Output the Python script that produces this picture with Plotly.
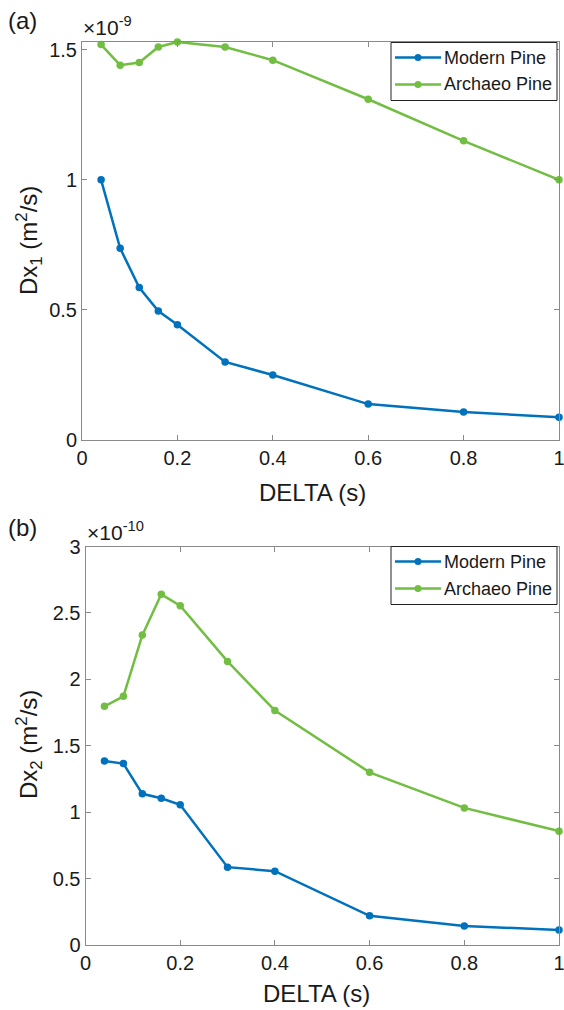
import plotly.graph_objects as go

W, H = 564, 1010

delta = [0.04, 0.08, 0.12, 0.16, 0.2, 0.3, 0.4, 0.6, 0.8, 1.0]
modern_dx1 = [1.00, 0.737, 0.586, 0.496, 0.443, 0.300, 0.250, 0.138, 0.108, 0.087]
archaeo_dx1 = [1.520, 1.441, 1.451, 1.511, 1.530, 1.511, 1.460, 1.310, 1.150, 1.000]
modern_dx2 = [1.386, 1.366, 1.138, 1.105, 1.055, 0.586, 0.556, 0.220, 0.143, 0.113]
archaeo_dx2 = [1.797, 1.872, 2.333, 2.640, 2.554, 2.135, 1.765, 1.300, 1.032, 0.857]

x_ticks = [0, 0.2, 0.4, 0.6, 0.8, 1]
x_ticklabels = ["0", "0.2", "0.4", "0.6", "0.8", "1"]
y1_ticks = [0, 0.5, 1, 1.5]
y1_ticklabels = ["0", "0.5", "1", "1.5"]
y2_ticks = [0, 0.5, 1, 1.5, 2, 2.5, 3]
y2_ticklabels = ["0", "0.5", "1", "1.5", "2", "2.5", "3"]

BLUE = "#0072BD"
GREEN = "#72BE43"
FONT = "Liberation Sans, Arial, sans-serif"
AXC = "#8a8a8a"
TXT = "#1a1a1a"


def px_x(p):
    return p / W


def px_y(p):
    return 1 - p / H


fig = go.Figure()

for xa, ya, m, a in [("x", "y", modern_dx1, archaeo_dx1),
                     ("x2", "y2", modern_dx2, archaeo_dx2)]:
    fig.add_trace(go.Scatter(x=delta, y=m, mode="lines+markers", name="Modern Pine",
                             line=dict(color=BLUE, width=2.5), marker=dict(color=BLUE, size=7.5),
                             xaxis=xa, yaxis=ya, cliponaxis=False, showlegend=False))
    fig.add_trace(go.Scatter(x=delta, y=a, mode="lines+markers", name="Archaeo Pine",
                             line=dict(color=GREEN, width=2.5), marker=dict(color=GREEN, size=7.5),
                             xaxis=xa, yaxis=ya, cliponaxis=False, showlegend=False))

axis_common = dict(showline=True, linecolor=AXC, linewidth=1, mirror="allticks",
                   ticks="inside", ticklen=5, tickcolor=AXC, showgrid=False, zeroline=False,
                   tickfont=dict(family=FONT, size=20, color=TXT), automargin=False,
                   ticklabeloverflow="allow")

fig.update_layout(
    width=W, height=H,
    margin=dict(l=0, r=0, t=0, b=0),
    plot_bgcolor="white", paper_bgcolor="white",
    showlegend=False,
    xaxis=dict(domain=[px_x(82), px_x(559)], range=[0, 1], anchor="y",
               tickvals=x_ticks, ticktext=x_ticklabels, **axis_common),
    yaxis=dict(domain=[px_y(440), px_y(42)], range=[0, 1.53], anchor="x",
               tickvals=y1_ticks, ticktext=y1_ticklabels, **axis_common),
    xaxis2=dict(domain=[px_x(85.5), px_x(559)], range=[0, 1], anchor="y2",
                tickvals=x_ticks, ticktext=x_ticklabels, **axis_common),
    yaxis2=dict(domain=[px_y(945), px_y(546.5)], range=[0, 3], anchor="x2",
                tickvals=y2_ticks, ticktext=y2_ticklabels, **axis_common),
)

ann = []
tf = dict(family=FONT, size=24, color=TXT)
# axis titles
ann.append(dict(text="DELTA (s)", x=px_x(312), y=px_y(492), xref="paper", yref="paper",
                showarrow=False, font=tf, xanchor="center", yanchor="middle"))
ann.append(dict(text="DELTA (s)", x=px_x(316), y=px_y(993), xref="paper", yref="paper",
                showarrow=False, font=tf, xanchor="center", yanchor="middle"))
ann.append(dict(text="Dx<sub>1</sub> (m<sup>2</sup>/s)", x=px_x(29), y=px_y(241), xref="paper",
                yref="paper", showarrow=False, font=tf, textangle=-90,
                xanchor="center", yanchor="middle"))
ann.append(dict(text="Dx<sub>2</sub> (m<sup>2</sup>/s)", x=px_x(29), y=px_y(745), xref="paper",
                yref="paper", showarrow=False, font=tf, textangle=-90,
                xanchor="center", yanchor="middle"))
# exponents
ann.append(dict(text="×10<sup>-9</sup>", x=px_x(81), y=px_y(26), xref="paper", yref="paper",
                showarrow=False, font=dict(family=FONT, size=21, color=TXT),
                xanchor="left", yanchor="middle"))
ann.append(dict(text="×10<sup>-10</sup>", x=px_x(85), y=px_y(531), xref="paper", yref="paper",
                showarrow=False, font=dict(family=FONT, size=21, color=TXT),
                xanchor="left", yanchor="middle"))
# panel labels
ann.append(dict(text="(a)", x=px_x(6), y=px_y(20), xref="paper", yref="paper",
                showarrow=False, font=dict(family=FONT, size=24, color=TXT),
                xanchor="left", yanchor="middle"))
ann.append(dict(text="(b)", x=px_x(6), y=px_y(527), xref="paper", yref="paper",
                showarrow=False, font=dict(family=FONT, size=24, color=TXT),
                xanchor="left", yanchor="middle"))

# legends drawn as shapes + text, positioned in paper coords
shapes = []
for top in (42.5, 546.5):
    x0, x1 = 391, 557
    y0, y1 = top, top + 58
    shapes.append(dict(type="rect", xref="paper", yref="paper",
                       x0=px_x(x0), x1=px_x(x1), y0=px_y(y1), y1=px_y(y0),
                       line=dict(color="#222222", width=1), fillcolor="white", layer="above"))
    for i, (name, col) in enumerate([("Modern Pine", BLUE), ("Archaeo Pine", GREEN)]):
        yc = top + 15 + i * 27
        shapes.append(dict(type="line", xref="paper", yref="paper",
                           x0=px_x(395), x1=px_x(441), y0=px_y(yc), y1=px_y(yc),
                           line=dict(color=col, width=2.5), layer="above"))
        shapes.append(dict(type="circle", xref="paper", yref="paper",
                           x0=px_x(414.5), x1=px_x(421.5), y0=px_y(yc + 3.5), y1=px_y(yc - 3.5),
                           line=dict(color=col, width=0), fillcolor=col, layer="above"))
        ann.append(dict(text=name, x=px_x(442), y=px_y(yc), xref="paper", yref="paper",
                        showarrow=False, font=dict(family=FONT, size=18, color=TXT),
                        xanchor="left", yanchor="middle"))

fig.update_layout(annotations=ann, shapes=shapes)

fig.write_html("out.html", config={"displayModeBar": False},
               post_script="document.body.style.margin='0';document.body.style.padding='0';"
                           "document.body.style.overflow='hidden';")
